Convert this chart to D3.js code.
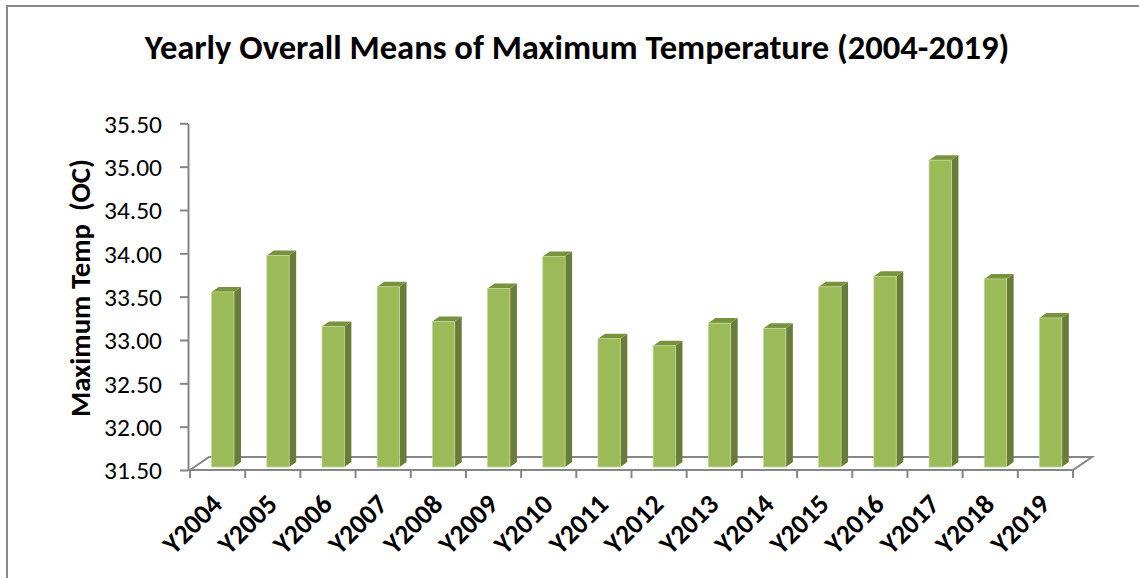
<!DOCTYPE html>
<html>
<head>
<meta charset="utf-8">
<script src="https://cdn.jsdelivr.net/npm/d3@7"></script>
<style>
  body { margin: 0; background: #fff; }
  svg { display: block; }
  text { font-family: Carlito, Calibri, Lato, sans-serif; fill: #000; }
</style>
</head>
<body>
<svg></svg>
<script>
// ----- Data ----- //
var years = ["Y2004", "Y2005", "Y2006", "Y2007", "Y2008", "Y2009", "Y2010", "Y2011",
             "Y2012", "Y2013", "Y2014", "Y2015", "Y2016", "Y2017", "Y2018", "Y2019"];
var maxTemp = [33.52, 33.94, 33.12, 33.58, 33.18, 33.56, 33.93, 32.98,
               32.90, 33.16, 33.10, 33.58, 33.70, 35.04, 33.67, 33.22];
var yTicks = [31.5, 32.0, 32.5, 33.0, 33.5, 34.0, 34.5, 35.0, 35.5];

var title = "Yearly Overall Means of Maximum Temperature (2004-2019)";
var yTitle = "Maximum Temp  (OC)";

// ----- SVG settings ----- //
var svgWidth = 1139;
var svgHeight = 578;
var axisColor = "#868686";
var depth = {dx: 19, dy: -13};     // floor depth
var barDepth = {dx: 7, dy: -5};    // bar block depth

var svg = d3.select("svg")
  .attr("width", svgWidth)
  .attr("height", svgHeight);

svg.append("rect")
  .attr("x", 7).attr("y", 6)
  .attr("width", 1200).attr("height", 700)
  .attr("fill", "none")
  .attr("stroke", "#8a8a8a")
  .attr("stroke-width", 2);

var scale = {};
scale.x = d3.scaleBand().domain(years).range([190, 1073]);
scale.y = d3.scaleLinear().domain([31.5, 35.5]).range([470, 123.3]);

var data = years.map(function(d, i) { return {year: d, value: maxTemp[i]}; });

drawFloor();
drawYAxis();
drawXAxis();
drawBars();
drawTitles();

// ==================== Helper functions ==================== //

function fitFont(sel, targetWidth, start) {
  sel.style("font-size", start + "px");
  var w = sel.node().getComputedTextLength();
  var size = start * targetWidth / w;
  sel.style("font-size", size + "px");
  return size;
}

function drawFloor() {
  var x0 = scale.x.range()[0], x1 = scale.x.range()[1], y0 = scale.y(31.5);
  svg.append("path")
    .attr("d", "M" + x0 + "," + y0 + "L" + (x0 + depth.dx) + "," + (y0 + depth.dy) +
               "L" + (x1 + depth.dx) + "," + (y0 + depth.dy) + "L" + x1 + "," + y0 + "Z")
    .attr("fill", "none")
    .attr("stroke", axisColor)
    .attr("stroke-width", 2);
}

function drawYAxis() {
  var g = svg.append("g")
    .attr("transform", "translate(188,0)")
    .call(d3.axisLeft(scale.y).tickValues(yTicks).tickFormat(d3.format(".2f"))
      .tickSize(8).tickSizeOuter(0).tickPadding(0));
  g.select(".domain").attr("stroke", axisColor).attr("stroke-width", 2);
  g.selectAll(".tick line").attr("stroke", axisColor).attr("stroke-width", 2);
  var labels = g.selectAll(".tick text")
    .attr("x", -26)
    .attr("dy", "0.35em")
    .attr("fill", "#000");
  var size = fitFont(d3.select(labels.nodes()[labels.size() - 1]), 58, 22);
  labels.style("font-size", size + "px");
}

function drawXAxis() {
  var bw = scale.x.bandwidth();
  var y0 = scale.y(31.5);
  var edges = years.map(function(d) { return scale.x(d); }).concat([scale.x.range()[1]]);
  svg.append("g").selectAll("line")
    .data(edges)
    .enter()
    .append("line")
    .attr("x1", function(d) { return d; })
    .attr("x2", function(d) { return d; })
    .attr("y1", y0)
    .attr("y2", y0 + 8)
    .attr("stroke", axisColor)
    .attr("stroke-width", 2);

  var labels = svg.append("g").selectAll("text")
    .data(years)
    .enter()
    .append("text")
    .attr("text-anchor", "end")
    .style("font-weight", "bold")
    .attr("transform", function(d) {
      return "translate(" + (scale.x(d) + bw / 2 + 6) + "," + (y0 + 36) + ") rotate(-45)";
    })
    .text(function(d) { return d; });
  var size = fitFont(d3.select(labels.nodes()[0]), 70, 22);
  labels.style("font-size", size + "px");
}

function drawBars() {
  var bw = scale.x.bandwidth();
  var fw = bw * 0.405;
  var bottom = scale.y(31.5) - 3;

  var bars = svg.append("g").selectAll("g")
    .data(data)
    .enter()
    .append("g");

  bars.append("path")
    .attr("d", function(d) {
      var fx = scale.x(d.year) + bw * 0.392, top = scale.y(d.value) - 3;
      return "M" + (fx + fw) + "," + top + "L" + (fx + fw + barDepth.dx) + "," + (top + barDepth.dy) +
             "L" + (fx + fw + barDepth.dx) + "," + (bottom + barDepth.dy) + "L" + (fx + fw) + "," + bottom + "Z";
    })
    .attr("fill", "#687D38");

  bars.append("path")
    .attr("d", function(d) {
      var fx = scale.x(d.year) + bw * 0.392, top = scale.y(d.value) - 3;
      return "M" + fx + "," + top + "L" + (fx + barDepth.dx) + "," + (top + barDepth.dy) +
             "L" + (fx + fw + barDepth.dx) + "," + (top + barDepth.dy) + "L" + (fx + fw) + "," + top + "Z";
    })
    .attr("fill", "#77933C");

  bars.append("rect")
    .attr("x", function(d) { return scale.x(d.year) + bw * 0.392; })
    .attr("y", function(d) { return scale.y(d.value) - 3; })
    .attr("width", fw)
    .attr("height", function(d) { return bottom - scale.y(d.value) + 3; })
    .attr("fill", "#9BBB59")
    .attr("stroke", "#C3D69B")
    .attr("stroke-width", 0.8);
}

function drawTitles() {
  var t = svg.append("text")
    .attr("x", 577)
    .attr("y", 59)
    .attr("text-anchor", "middle")
    .style("font-weight", "bold")
    .text(title);
  fitFont(t, 865, 34);

  var yt = svg.append("text")
    .attr("transform", "translate(90,288) rotate(-90)")
    .attr("text-anchor", "middle")
    .style("font-weight", "bold")
    .style("white-space", "pre")
    .text(yTitle);
  fitFont(yt, 258, 24);
}
</script>
</body>
</html>
